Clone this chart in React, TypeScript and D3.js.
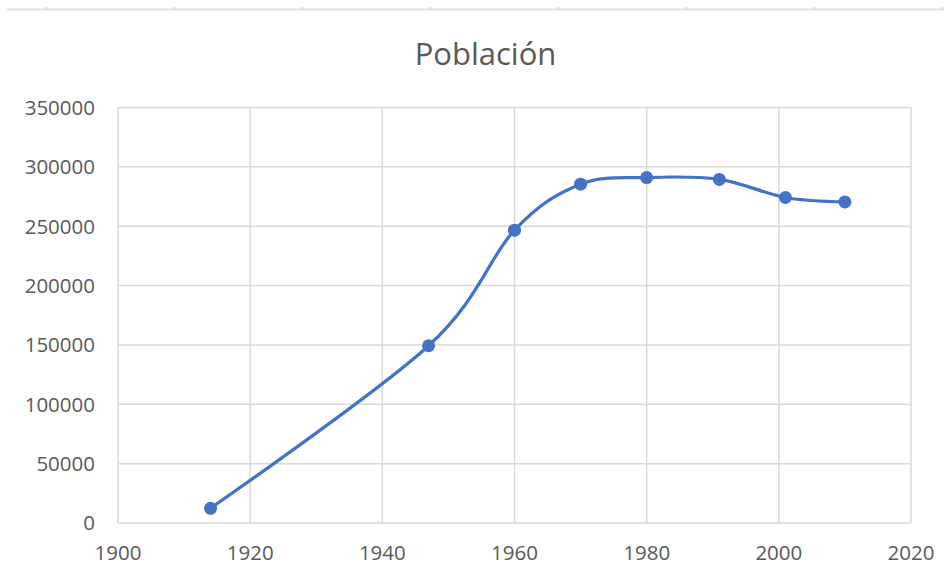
import React from "react";
import * as d3 from "d3";

const years = [1914, 1947, 1960, 1970, 1980, 1991, 2001, 2010];
const population = [12400, 149300, 246700, 285400, 291000, 289400, 274200, 270500];
const xTicks = [1900, 1920, 1940, 1960, 1980, 2000, 2020];
const yTicks = [0, 50000, 100000, 150000, 200000, 250000, 300000, 350000];
const title = "Población";

const W = 944;
const H = 580;
const FONT = "'Open Sans', 'Liberation Sans', sans-serif";

export default function App() {
  const x = d3.scaleLinear().domain([1900, 2020]).range([118, 911]);
  const y = d3.scaleLinear().domain([0, 350000]).range([523, 107.5]);
  const data = years.map((yr, i) => ({ yr, v: population[i] }));
  const line = d3
    .line<{ yr: number; v: number }>()
    .x((d) => x(d.yr))
    .y((d) => y(d.v))
    .curve(d3.curveCardinal.tension(0));

  const topTicks = d3.range(46, 944, 128);

  return (
    <svg
      width={W}
      height={H}
      style={{ position: "absolute", left: 0, top: 0, background: "#fff" }}
    >
      <rect x={0} y={0} width={W} height={H} fill="#fff" />
      {/* top ruler strip */}
      <line x1={7} x2={W} y1={9.5} y2={9.5} stroke="#e3e3e3" strokeWidth={2} />
      {topTicks.map((t) => (
        <line key={t} x1={t} x2={t} y1={7} y2={9} stroke="#d0d0d0" strokeWidth={1.5} />
      ))}

      {/* title */}
      <text
        x={485.5}
        y={65}
        textAnchor="middle"
        fontFamily={FONT}
        fontSize={31}
        fill="#595959"
      >
        {title}
      </text>

      {/* gridlines */}
      {yTicks.map((t) => (
        <line
          key={"h" + t}
          x1={x(1900)}
          x2={x(2020)}
          y1={y(t)}
          y2={y(t)}
          stroke="#d9d9d9"
          strokeWidth={1.5}
        />
      ))}
      {xTicks.map((t) => (
        <line
          key={"v" + t}
          x1={x(t)}
          x2={x(t)}
          y1={y(350000)}
          y2={y(0)}
          stroke="#d9d9d9"
          strokeWidth={1.5}
        />
      ))}

      {/* y labels */}
      {yTicks.map((t) => (
        <text
          key={"yl" + t}
          x={95}
          y={y(t)}
          dy="0.36em"
          textAnchor="end"
          fontFamily={FONT}
          fontSize={20.5}
          fill="#595959"
        >
          {t}
        </text>
      ))}

      {/* x labels */}
      {xTicks.map((t) => (
        <text
          key={"xl" + t}
          x={x(t)}
          y={560}
          textAnchor="middle"
          fontFamily={FONT}
          fontSize={20.5}
          fill="#595959"
        >
          {t}
        </text>
      ))}

      {/* series */}
      <path
        d={line(data) || ""}
        fill="none"
        stroke="#4472C4"
        strokeWidth={3.2}
        strokeLinejoin="round"
        strokeLinecap="round"
      />
      {data.map((d) => (
        <circle key={d.yr} cx={x(d.yr)} cy={y(d.v)} r={6.5} fill="#4472C4" />
      ))}
    </svg>
  );
}
